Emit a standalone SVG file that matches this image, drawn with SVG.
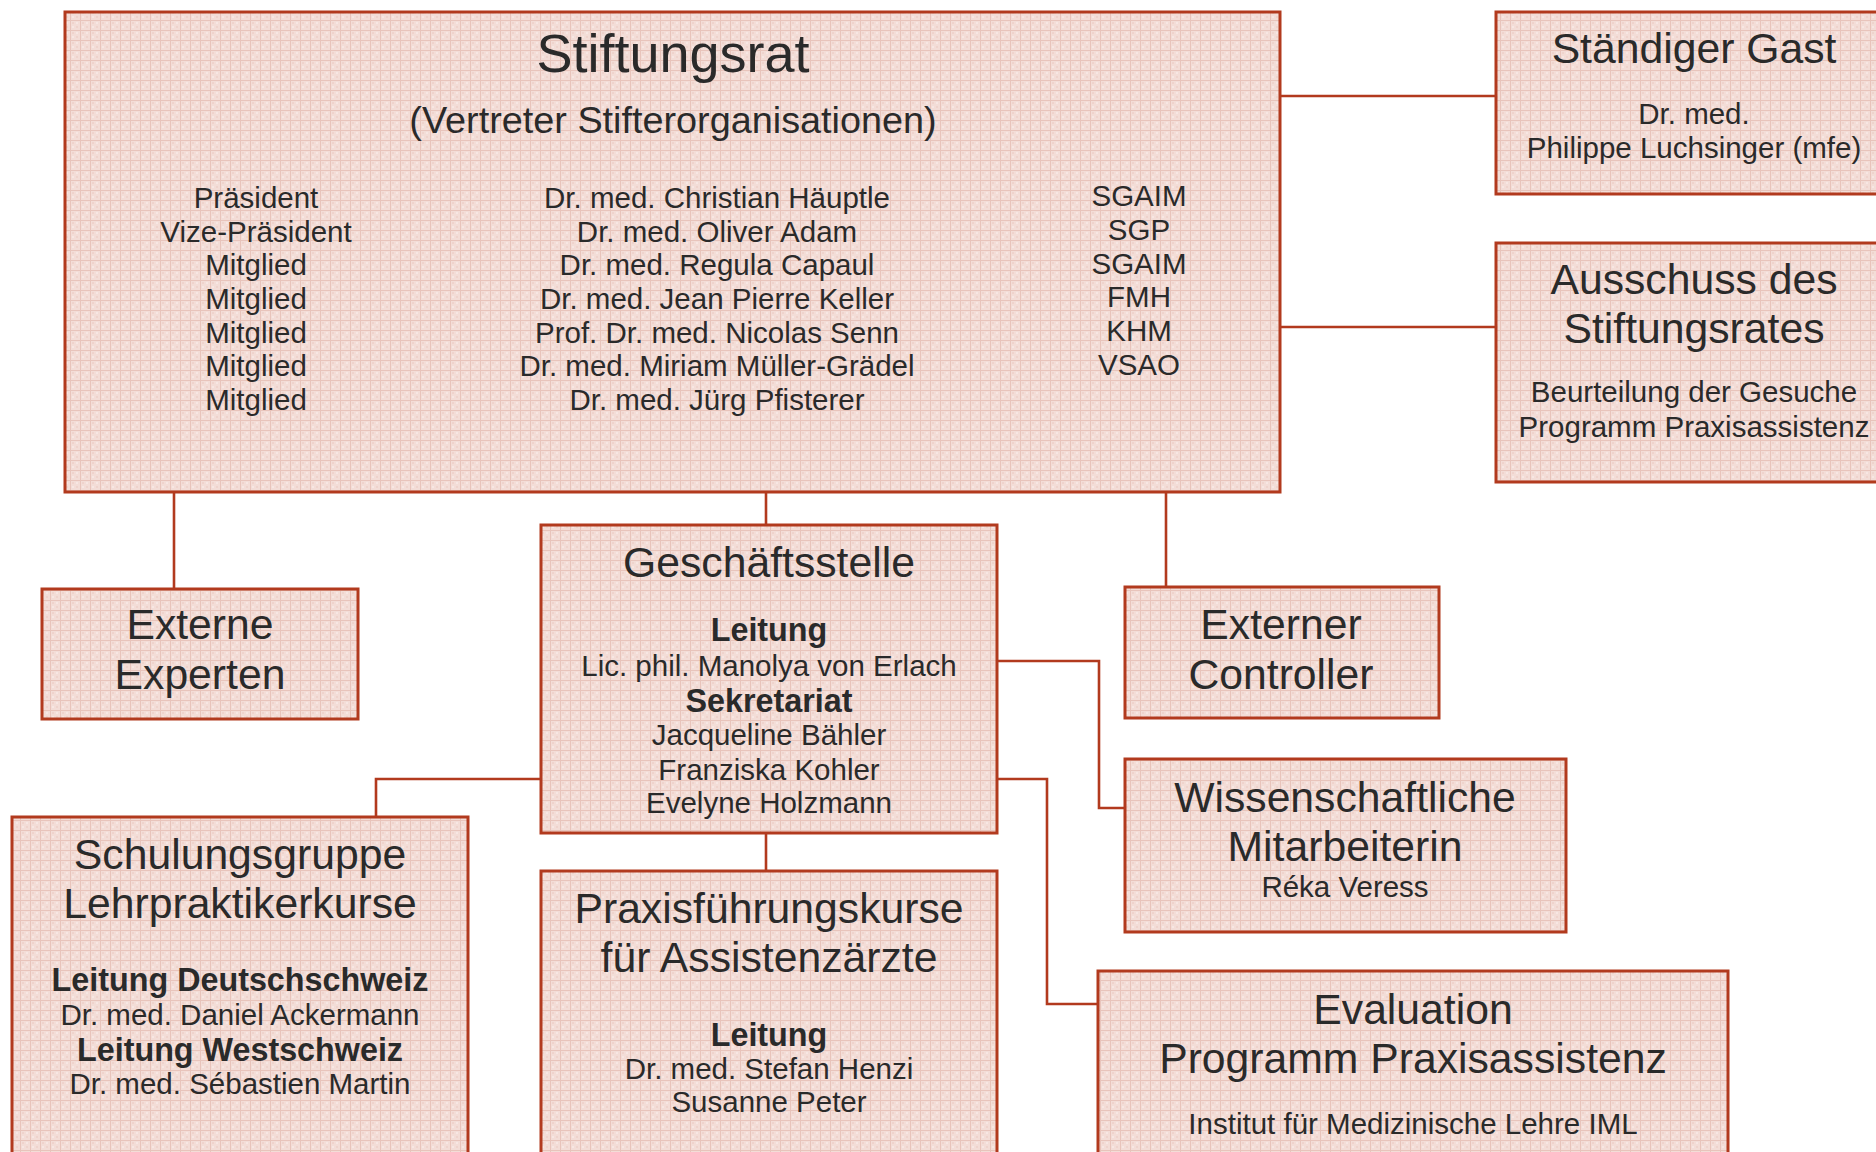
<svg xmlns="http://www.w3.org/2000/svg" width="1876" height="1152" viewBox="0 0 1876 1152">
<defs>
<pattern id="grid" width="10" height="10" patternUnits="userSpaceOnUse">
<rect width="10" height="10" fill="#f3ddd7"/>
<rect x="2" y="2" width="2" height="2" fill="#efd3cc"/>
<rect x="6" y="6" width="2" height="2" fill="#efd3cc"/>
<rect x="6" y="2" width="2" height="2" fill="#f7e7e3"/>
<rect x="2" y="6" width="2" height="2" fill="#f7e7e3"/>
<rect x="0" y="0" width="10" height="1" fill="#e8c4bb"/>
<rect x="0" y="0" width="1" height="10" fill="#e8c4bb"/>
</pattern>
<style>
.box{fill:url(#grid);stroke:#b23a1e;stroke-width:3}
.con{fill:none;stroke:#b23a1e;stroke-width:2.6}
text{font-family:"Liberation Sans",Arial,sans-serif;fill:#2a2a2a;text-anchor:middle}
.t53{font-size:54px}
.t42{font-size:42.7px}
.t37{font-size:37.8px}
.t29{font-size:29.5px}
.b{font-weight:bold;font-size:32.3px}
</style>
</defs>
<rect width="1876" height="1152" fill="#ffffff"/>

<g id="connectors">
<line class="con" x1="1280" y1="96" x2="1496" y2="96"/>
<line class="con" x1="1280" y1="327" x2="1496" y2="327"/>
<line class="con" x1="174" y1="492" x2="174" y2="589"/>
<line class="con" x1="766" y1="492" x2="766" y2="525"/>
<line class="con" x1="1166" y1="492" x2="1166" y2="587"/>
<polyline class="con" points="997,661 1099,661 1099,808 1125,808"/>
<polyline class="con" points="997,779 1047,779 1047,1004 1098,1004"/>
<polyline class="con" points="541,779 376,779 376,817"/>
<line class="con" x1="766" y1="833" x2="766" y2="871"/>
</g>

<g id="stiftungsrat">
<rect class="box" x="65" y="12" width="1215" height="480"/>
<text class="t53" x="673" y="72">Stiftungsrat</text>
<text class="t37" x="673" y="133">(Vertreter Stifterorganisationen)</text>
<g class="t29">
<text x="256" y="208">Präsident</text>
<text x="256" y="242">Vize-Präsident</text>
<text x="256" y="275">Mitglied</text>
<text x="256" y="309">Mitglied</text>
<text x="256" y="343">Mitglied</text>
<text x="256" y="376">Mitglied</text>
<text x="256" y="410">Mitglied</text>
<text x="717" y="208">Dr. med. Christian Häuptle</text>
<text x="717" y="242">Dr. med. Oliver Adam</text>
<text x="717" y="275">Dr. med. Regula Capaul</text>
<text x="717" y="309">Dr. med. Jean Pierre Keller</text>
<text x="717" y="343">Prof. Dr. med. Nicolas Senn</text>
<text x="717" y="376">Dr. med. Miriam Müller-Grädel</text>
<text x="717" y="410">Dr. med. Jürg Pfisterer</text>
<text x="1139" y="206">SGAIM</text>
<text x="1139" y="240">SGP</text>
<text x="1139" y="274">SGAIM</text>
<text x="1139" y="307">FMH</text>
<text x="1139" y="341">KHM</text>
<text x="1139" y="375">VSAO</text>
</g>
</g>

<g id="staendiger-gast">
<rect class="box" x="1496" y="12" width="400" height="182"/>
<text class="t42" x="1694" y="63">Ständiger Gast</text>
<text class="t29" x="1694" y="124">Dr. med.</text>
<text class="t29" x="1694" y="158">Philippe Luchsinger (mfe)</text>
</g>

<g id="ausschuss">
<rect class="box" x="1496" y="243" width="400" height="239"/>
<text class="t42" x="1694" y="294">Ausschuss des</text>
<text class="t42" x="1694" y="343">Stiftungsrates</text>
<text class="t29" x="1694" y="402">Beurteilung der Gesuche</text>
<text class="t29" x="1694" y="437">Programm Praxisassistenz</text>
</g>

<g id="externe-experten">
<rect class="box" x="42" y="589" width="316" height="130"/>
<text class="t42" x="200" y="639">Externe</text>
<text class="t42" x="200" y="689">Experten</text>
</g>

<g id="geschaeftsstelle">
<rect class="box" x="541" y="525" width="456" height="308"/>
<text class="t42" x="769" y="577">Geschäftsstelle</text>
<text class="b" x="769" y="641">Leitung</text>
<text class="t29" x="769" y="676">Lic. phil. Manolya von Erlach</text>
<text class="b" x="769" y="712">Sekretariat</text>
<text class="t29" x="769" y="745">Jacqueline Bähler</text>
<text class="t29" x="769" y="780">Franziska Kohler</text>
<text class="t29" x="769" y="813">Evelyne Holzmann</text>
</g>

<g id="externer-controller">
<rect class="box" x="1125" y="587" width="314" height="131"/>
<text class="t42" x="1281" y="639">Externer</text>
<text class="t42" x="1281" y="689">Controller</text>
</g>

<g id="wissenschaftliche-mitarbeiterin">
<rect class="box" x="1125" y="759" width="441" height="173"/>
<text class="t42" x="1345" y="812">Wissenschaftliche</text>
<text class="t42" x="1345" y="861">Mitarbeiterin</text>
<text class="t29" x="1345" y="897">Réka Veress</text>
</g>

<g id="schulungsgruppe">
<rect class="box" x="12" y="817" width="456" height="360"/>
<text class="t42" x="240" y="869">Schulungsgruppe</text>
<text class="t42" x="240" y="918">Lehrpraktikerkurse</text>
<text class="b" x="240" y="991">Leitung Deutschschweiz</text>
<text class="t29" x="240" y="1025">Dr. med. Daniel Ackermann</text>
<text class="b" x="240" y="1061">Leitung Westschweiz</text>
<text class="t29" x="240" y="1094">Dr. med. Sébastien Martin</text>
</g>

<g id="praxisfuehrungskurse">
<rect class="box" x="541" y="871" width="456" height="320"/>
<text class="t42" x="769" y="923">Praxisführungskurse</text>
<text class="t42" x="769" y="972">für Assistenzärzte</text>
<text class="b" x="769" y="1046">Leitung</text>
<text class="t29" x="769" y="1079">Dr. med. Stefan Henzi</text>
<text class="t29" x="769" y="1112">Susanne Peter</text>
</g>

<g id="evaluation">
<rect class="box" x="1098" y="971" width="630" height="220"/>
<text class="t42" x="1413" y="1024">Evaluation</text>
<text class="t42" x="1413" y="1073">Programm Praxisassistenz</text>
<text class="t29" x="1413" y="1134">Institut für Medizinische Lehre IML</text>
</g>
</svg>
